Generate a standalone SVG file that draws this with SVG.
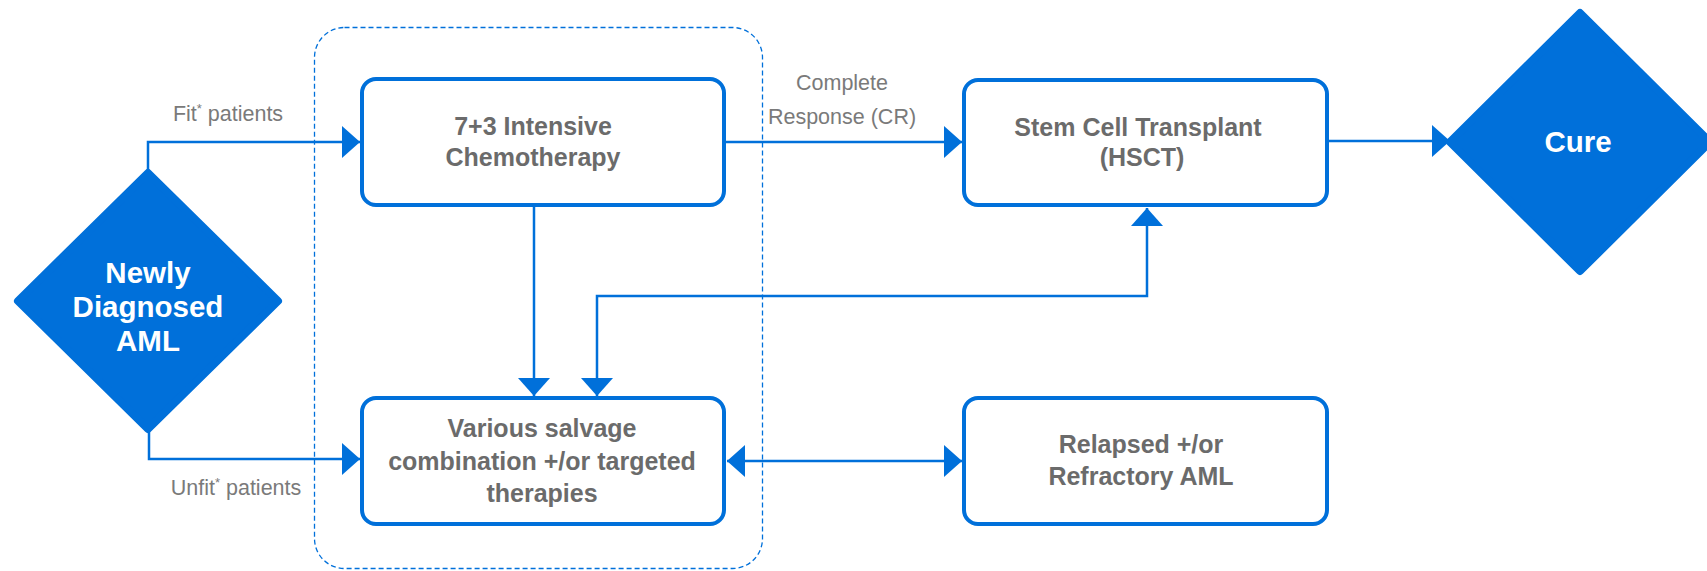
<svg xmlns="http://www.w3.org/2000/svg" width="1707" height="571" viewBox="0 0 1707 571">
<style>
.box{fill:#fff;stroke:#0070DA;stroke-width:4}
.dia{fill:#0070DA;stroke:#0070DA;stroke-width:8;stroke-linejoin:round}
.con{fill:none;stroke:#0070DA;stroke-width:2.5}
.bt{font-family:"Liberation Sans",Arial,sans-serif;font-weight:bold;font-size:25px;fill:#6b6b6b;text-anchor:middle}
.wt{font-family:"Liberation Sans",Arial,sans-serif;font-weight:bold;font-size:29.5px;fill:#fff;text-anchor:middle}
.lb{font-family:"Liberation Sans",Arial,sans-serif;font-size:21.5px;fill:#7a7a7a;text-anchor:middle}
.sup{font-size:13px}
</style>
<defs>
<marker id="ah" markerUnits="userSpaceOnUse" markerWidth="18" markerHeight="32" refX="18" refY="16" orient="auto-start-reverse" viewBox="0 0 18 32">
<path d="M0,0 L18,16 L0,32 z" fill="#0070DA"/>
</marker>
</defs>
<g id="group-box">
<rect x="314.5" y="27.5" width="448" height="541" rx="30" fill="none" stroke="#0070DA" stroke-width="1.3" stroke-dasharray="5,3"/>
</g>
<g id="connectors">
<path class="con" d="M148,172 V142 H360" marker-end="url(#ah)"/>
<path class="con" d="M149,430 V459 H360" marker-end="url(#ah)"/>
<path class="con" d="M534,207 V396" marker-end="url(#ah)"/>
<path class="con" d="M1147,208 V296 H597 V396" marker-start="url(#ah)" marker-end="url(#ah)"/>
<path class="con" d="M726,142 H962" marker-end="url(#ah)"/>
<path class="con" d="M1329,141 H1450" marker-end="url(#ah)"/>
<path class="con" d="M727,461 H962" marker-start="url(#ah)" marker-end="url(#ah)"/>
</g>
<g id="label-fit"><text class="lb" x="228" y="121">Fit<tspan class="sup" dy="-8">*</tspan><tspan dy="8"> patients</tspan></text></g>
<g id="label-unfit"><text class="lb" x="236" y="495">Unfit<tspan class="sup" dy="-8">*</tspan><tspan dy="8"> patients</tspan></text></g>
<g id="label-cr"><text class="lb" x="842" y="90">Complete</text><text class="lb" x="842" y="124">Response (CR)</text></g>
<g id="node-newly">
<polygon class="dia" points="148,173 278,301 148,429 18,301"/>
<text class="wt" x="148" y="283">Newly</text>
<text class="wt" x="148" y="317">Diagnosed</text>
<text class="wt" x="148" y="351">AML</text>
</g>
<g id="node-chemo">
<rect class="box" x="362" y="79" width="362" height="126" rx="14"/>
<text class="bt" x="533" y="135">7+3 Intensive</text>
<text class="bt" x="533" y="166">Chemotherapy</text>
</g>
<g id="node-salvage">
<rect class="box" x="362" y="398" width="362" height="126" rx="14"/>
<text class="bt" x="542" y="437">Various salvage</text>
<text class="bt" x="542" y="470">combination +/or targeted</text>
<text class="bt" x="542" y="502">therapies</text>
</g>
<g id="node-hsct">
<rect class="box" x="964" y="80" width="363" height="125" rx="14"/>
<text class="bt" x="1138" y="136">Stem Cell Transplant</text>
<text class="bt" x="1142" y="166">(HSCT)</text>
</g>
<g id="node-relapsed">
<rect class="box" x="964" y="398" width="363" height="126" rx="14"/>
<text class="bt" x="1141" y="453">Relapsed +/or</text>
<text class="bt" x="1141" y="485">Refractory AML</text>
</g>
<g id="node-cure">
<polygon class="dia" points="1580,13 1710,142 1580,271 1450,142"/>
<text class="wt" x="1578" y="152">Cure</text>
</g>
</svg>
